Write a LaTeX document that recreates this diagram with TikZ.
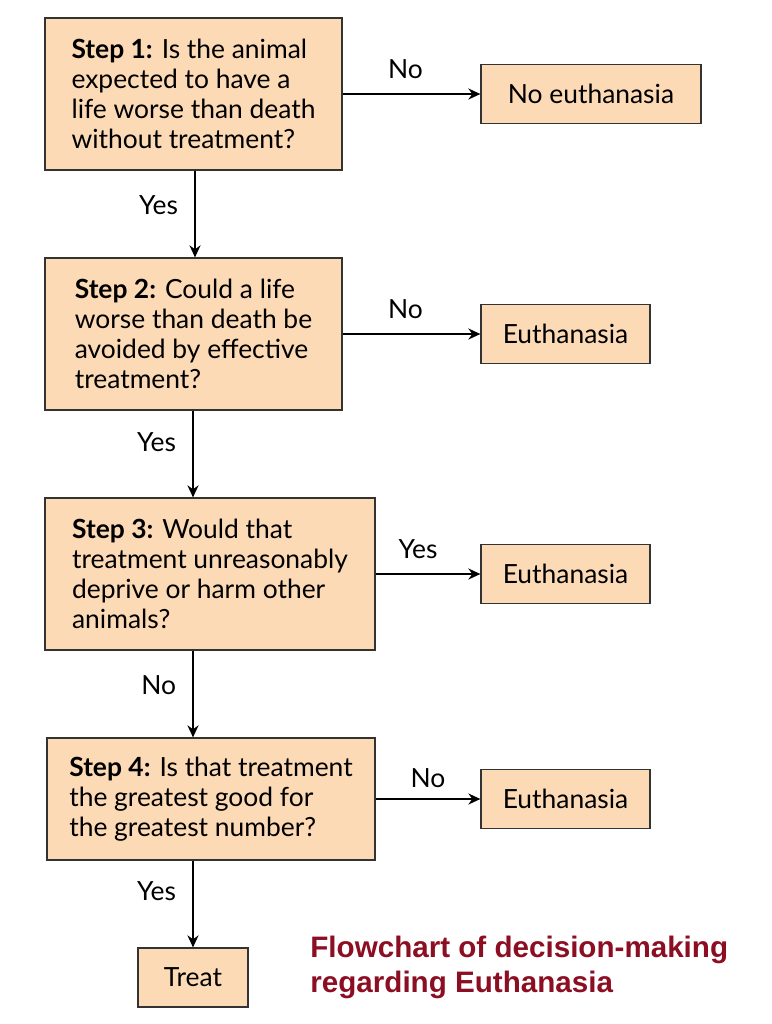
\documentclass[tikz,border=0pt]{standalone}
\usepackage{fontspec}
\setmainfont{Lato}
\newfontfamily\titlefont{Liberation Sans}
\usetikzlibrary{arrows.meta}
\definecolor{peach}{HTML}{FCDAB6}
\definecolor{titlered}{HTML}{8C0E22}
\tikzset{
	stepbox/.style={draw=black!80, fill=peach, line width=0.6pt, align=left, inner sep=0pt, font=\fontsize{13.2}{15}\selectfont},
	endbox/.style={draw=black!80, fill=peach, line width=0.6pt, align=center, inner sep=0pt, font=\fontsize{13.2}{15}\selectfont},
	flow/.style={line width=1pt, -{Stealth[length=6pt, width=5.5pt]}},
	lbl/.style={font=\fontsize{13.2}{15}\selectfont, inner sep=0pt}
}
\begin{document}
\begin{tikzpicture}[x=0.5pt, y=-0.5pt]
	\useasboundingbox (0,0) rectangle (772,1024);
	% decision steps
	\node[stepbox, minimum width=148.5pt, minimum height=76pt] (s1) at (193.5,94) {\textbf{Step 1:} Is the animal\\expected to have a\\life worse than death\\without treatment?};
	\node[stepbox, minimum width=148.5pt, minimum height=76pt] (s2) at (193.5,334) {\textbf{Step 2:} Could a life\\worse than death be\\avoided by effective\\treatment?};
	\node[stepbox, minimum width=165pt, minimum height=76pt] (s3) at (210,574) {\textbf{Step 3:} Would that\\treatment unreasonably\\deprive or harm other\\animals?};
	\node[stepbox, minimum width=164pt, minimum height=61pt] (s4) at (211,799) {\textbf{Step 4:} Is that treatment\\the greatest good for\\the greatest number?};
	% outcomes
	\node[endbox, minimum width=110pt, minimum height=29.5pt] (o1) at (591,94) {No euthanasia};
	\node[endbox, minimum width=84.5pt, minimum height=29.5pt] (o2) at (565.5,334) {Euthanasia};
	\node[endbox, minimum width=84.5pt, minimum height=29.5pt] (o3) at (565.5,574) {Euthanasia};
	\node[endbox, minimum width=84.5pt, minimum height=29.5pt] (o4) at (565.5,799) {Euthanasia};
	\node[endbox, minimum width=55pt, minimum height=29.5pt] (tr) at (193,977.5) {Treat};
	% arrows
	\draw[flow] (s1.east) -- node[lbl, above=7pt, xshift=-3pt] {No} (o1.west);
	\draw[flow] (s2.east) -- node[lbl, above=7pt, xshift=-3pt] {No} (o2.west);
	\draw[flow] (s3.east) -- node[lbl, above=7pt, xshift=-5pt] {Yes} (o3.west);
	\draw[flow] (s4.east) -- node[lbl, above=5pt, xshift=0pt] {No} (o4.west);
	\draw[flow] (s1.south -| 195,0) -- node[lbl, left=8pt, pos=0.4] {Yes} (s2.north -| 195,0);
	\draw[flow] (s2.south -| 193,0) -- node[lbl, left=8pt, pos=0.36] {Yes} (s3.north -| 193,0);
	\draw[flow] (s3.south -| 193,0) -- node[lbl, left=8pt, pos=0.4] {No} (s4.north -| 193,0);
	\draw[flow] (s4.south -| 193,0) -- node[lbl, left=8pt, pos=0.35] {Yes} (tr.north);
	% caption
	\node[font=\titlefont\bfseries\fontsize{14.8}{17.5}\selectfont, text=titlered, align=left, anchor=north west, inner sep=0pt] (cap) at (310,936) {Flowchart of decision-making\\regarding Euthanasia};
\end{tikzpicture}
\end{document}
